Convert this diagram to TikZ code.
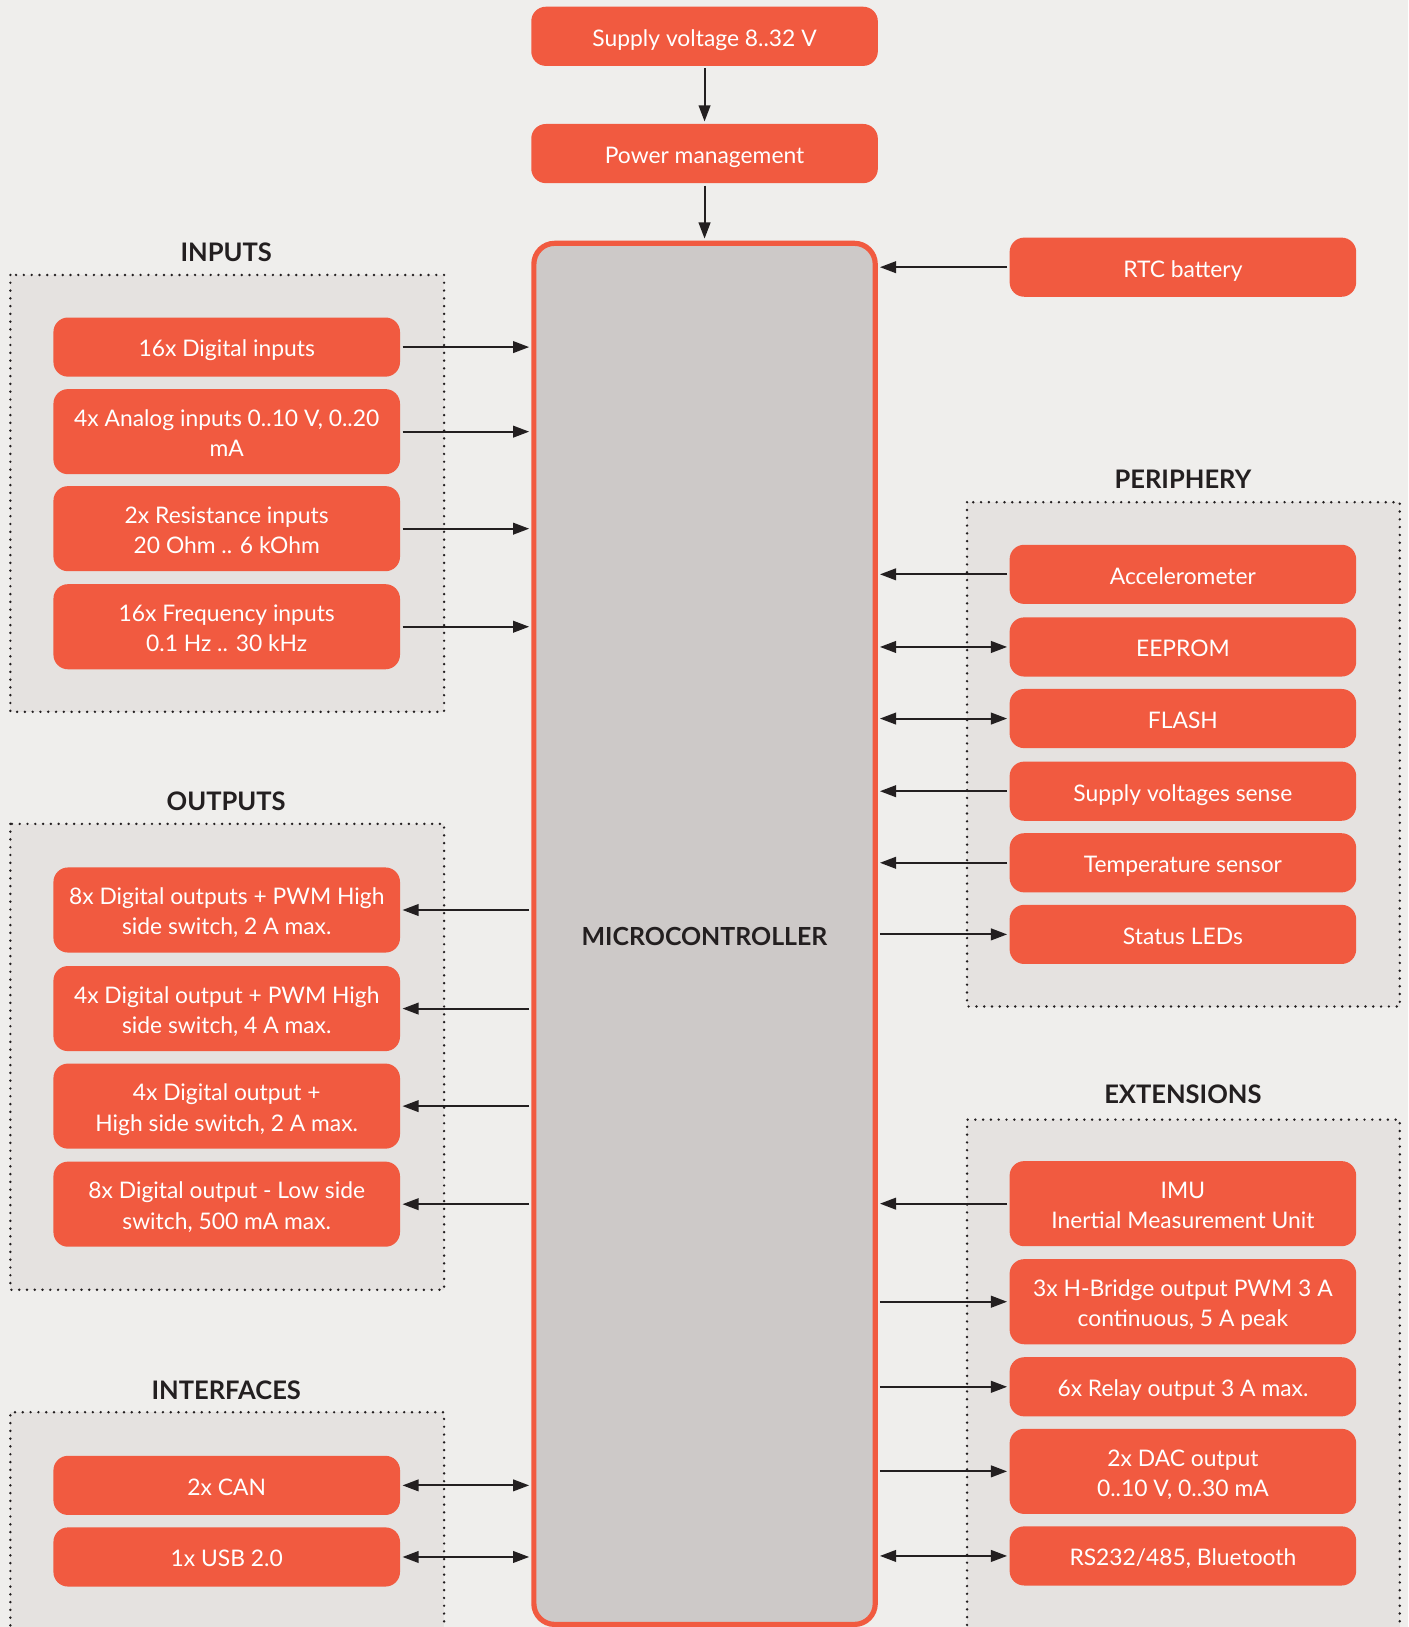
\documentclass[tikz,border=0pt]{standalone}
\usepackage{fontspec}
\setmainfont{Lato}
\usetikzlibrary{arrows.meta}
\definecolor{bg}{RGB}{239,238,236}
\definecolor{grp}{RGB}{229,226,224}
\definecolor{mcfill}{RGB}{205,201,200}
\definecolor{boxor}{RGB}{241,90,64}
\definecolor{ink}{RGB}{35,31,32}
\newcommand\twol[2]{\begin{tabular}{@{}c@{}}\rule{0pt}{13.85pt}#1\\#2\end{tabular}}
\tikzset{
  obox/.style={rounded corners=7pt, fill=boxor, text=white, minimum width=167pt, inner sep=0pt,
    font=\fontsize{11}{14.5}\selectfont},
  sh/.style={obox, minimum height=28.5pt,
    execute at begin node={\rule{0pt}{13.85pt}},
    execute at end node={\rule[-4.35pt]{0pt}{4.35pt}}},
  tl/.style={obox, minimum height=41pt},
  grpbox/.style={fill=grp, draw=ink, line width=1.3pt, line cap=round, dash pattern=on 0pt off 3.75pt},
  head/.style={text=ink, font=\fontsize{12.3}{15}\selectfont\bfseries},
  tip/.tip={Triangle[length=7.8pt,width=5.6pt]},
  conn/.style={draw=ink, line width=1pt, -tip, shorten >=1pt, shorten <=1pt},
  bconn/.style={draw=ink, line width=1pt, tip-tip, shorten >=1pt, shorten <=1pt},
}
\begin{document}
\begin{tikzpicture}[x=0.5pt,y=-0.5pt]
\fill[bg] (0,0) rectangle (1357,1568);
\useasboundingbox (0,0) rectangle (1357,1568);
% groups
\draw[grpbox] (10,265) rectangle (428,686);
\draw[grpbox] (10,794) rectangle (428,1243);
\draw[grpbox] (428,1600) -- (428,1361) -- (10,1361) -- (10,1600);
\draw[grpbox] (932,484) rectangle (1349,970);
\draw[grpbox] (1349,1600) -- (1349,1079) -- (932,1079) -- (932,1600);
\node[head] (hin) at (218,243) {INPUTS};
\node[head] (hout) at (218,772) {OUTPUTS};
\node[head] (hif) at (218,1340) {INTERFACES};
\node[head] (hper) at (1140,462) {PERIPHERY};
\node[head] (hext) at (1140,1055) {EXTENSIONS};
% microcontroller
\node[draw=boxor, line width=2.5pt, fill=mcfill, rounded corners=10pt, minimum width=164.5pt, minimum height=665.5pt, inner sep=0pt] (mc) at (679,900) {};
\node[head, font=\fontsize{12}{15}\selectfont\bfseries] (mcl) at (679,903) {MICROCONTROLLER};
% top
\node[sh] (sup) at (679,35) {Supply voltage 8..32 V};
\node[sh] (pm) at (679,148) {Power management};
\node[sh] (rtc) at (1140,257.5) {RTC battery};
% inputs
\node[sh] (in1) at (218.5,334.5) {16x Digital inputs};
\node[tl] (in2) at (218.5,416) {\twol{4x Analog inputs 0..10 V, 0..20}{mA}};
\node[tl] (in3) at (218.5,509.5) {\twol{2x Resistance inputs}{20 Ohm .. 6 kOhm}};
\node[tl] (in4) at (218.5,604) {\twol{16x Frequency inputs}{0.1 Hz .. 30 kHz}};
% outputs
\node[tl] (out1) at (218.5,877) {\twol{8x Digital outputs + PWM High}{side switch, 2 A max.}};
\node[tl] (out2) at (218.5,972) {\twol{4x Digital output + PWM High}{side switch, 4 A max.}};
\node[tl] (out3) at (218.5,1066) {\twol{4x Digital output +}{High side switch, 2 A max.}};
\node[tl] (out4) at (218.5,1160.5) {\twol{8x Digital output - Low side}{switch, 500 mA max.}};
% interfaces
\node[sh] (if1) at (218.5,1431.5) {2x CAN};
\node[sh] (if2) at (218.5,1500.5) {1x USB 2.0};
% periphery
\node[sh] (p1) at (1140,553.5) {Accelerometer};
\node[sh] (p2) at (1140,623.5) {EEPROM};
\node[sh] (p3) at (1140,692.5) {FLASH};
\node[sh] (p4) at (1140,762.5) {Supply voltages sense};
\node[sh] (p5) at (1140,831.5) {Temperature sensor};
\node[sh] (p6) at (1140,900.5) {Status LEDs};
% extensions
\node[tl] (e1) at (1140,1160) {\twol{IMU}{Inertial Measurement Unit}};
\node[tl] (e2) at (1140,1254.5) {\twol{3x H-Bridge output PWM 3 A}{continuous, 5 A peak}};
\node[sh] (e3) at (1140,1336.5) {6x Relay output 3 A max.};
\node[tl] (e4) at (1140,1418) {\twol{2x DAC output}{0..10 V, 0..30 mA}};
\node[sh] (e5) at (1140,1499.5) {RS232/485, Bluetooth};
% connectors
\draw[conn] (sup) -- (pm);
\draw[conn] (pm) -- (mc.north -| pm.south);
\draw[conn] (rtc.west) -- (mc.east |- rtc.west);
\foreach \n in {in1,in2,in3,in4} \draw[conn] (\n.east) -- (mc.west |- \n.east);
\foreach \n in {out1,out2,out3,out4} \draw[conn] (mc.west |- \n.east) -- (\n.east);
\foreach \n in {if1,if2} \draw[bconn] (mc.west |- \n.east) -- (\n.east);
\foreach \n in {p1,p4,p5,e1} \draw[conn] (\n.west) -- (mc.east |- \n.west);
\foreach \n in {p6,e2,e3,e4} \draw[conn] (mc.east |- \n.west) -- (\n.west);
\foreach \n in {p2,p3,e5} \draw[bconn] (mc.east |- \n.west) -- (\n.west);
\end{tikzpicture}
\end{document}
